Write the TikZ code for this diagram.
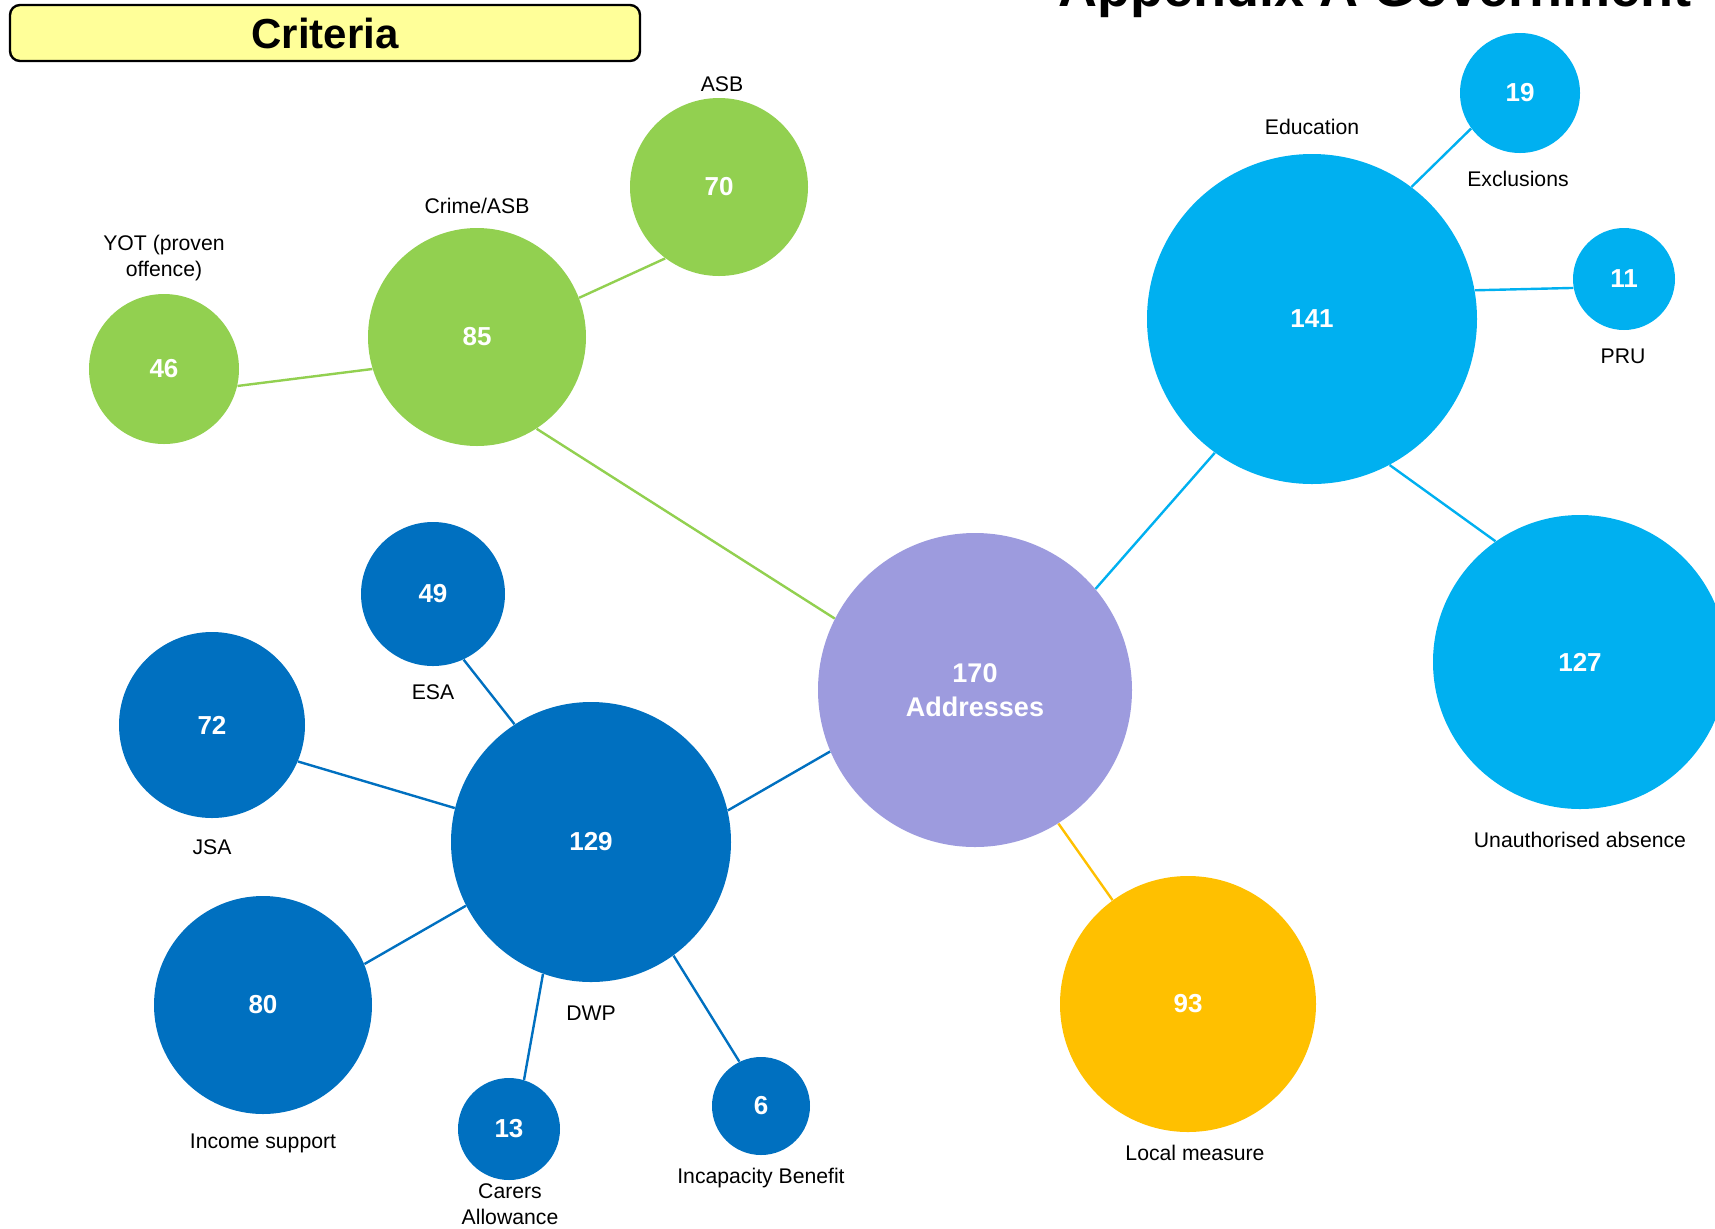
\documentclass[tikz,border=0pt]{standalone}
\usepackage{fontspec}
\setmainfont{Liberation Sans}
\definecolor{cgreen}{HTML}{92D050}
\definecolor{clblue}{HTML}{00B0F0}
\definecolor{cdblue}{HTML}{0070C0}
\definecolor{cpurple}{HTML}{9D9BDE}
\definecolor{corange}{HTML}{FFC000}
\definecolor{cyellow}{HTML}{FFFF99}
\tikzset{
  bub/.style={circle, inner sep=0pt, text=white, font=\bfseries\fontsize{13}{15}\selectfont, align=center},
  lab/.style={font=\fontsize{10.6}{13}\selectfont, align=center, inner sep=0pt},
  link/.style={line width=1.2pt}
}
\begin{document}
\begin{tikzpicture}[x=0.5pt,y=-0.5pt]
\useasboundingbox (0,0) rectangle (1715,1228);
\clip (0,0) rectangle (1715,1228);
% title (cut off at the top edge, as in the reference)
\node[anchor=base west, inner sep=0pt, font=\bfseries\fontsize{27}{30}\selectfont] (title) at (1058,6) {Appendix A Government};
% criteria box
\node[draw=black, line width=1.2pt, fill=cyellow, rounded corners=5pt, minimum width=315pt, minimum height=28pt, inner sep=0pt, font=\bfseries\fontsize{21}{24}\selectfont] (crit) at (325,33) {Criteria};
% bubbles
\node[bub, fill=cpurple, minimum size=157pt, font=\bfseries\fontsize{13.5}{17}\selectfont] (addr) at (975,690) {170\\Addresses};
\node[bub, fill=clblue, minimum size=165pt] (edu) at (1312,319) {141};
\node[bub, fill=clblue, minimum size=60pt] (exc) at (1520,93) {19};
\node[bub, fill=clblue, minimum size=51pt] (pru) at (1624,279) {11};
\node[bub, fill=clblue, minimum size=147pt] (ua) at (1580,662) {127};
\node[bub, fill=corange, minimum size=128pt] (loc) at (1188,1004) {93};
\node[bub, fill=cdblue, minimum size=140pt] (dwp) at (591,842) {129};
\node[bub, fill=cdblue, minimum size=72pt] (esa) at (433,594) {49};
\node[bub, fill=cdblue, minimum size=93pt] (jsa) at (212,725) {72};
\node[bub, fill=cdblue, minimum size=109pt] (inc) at (263,1005) {80};
\node[bub, fill=cdblue, minimum size=51pt] (car) at (509,1129) {13};
\node[bub, fill=cdblue, minimum size=49pt] (icb) at (761,1106) {6};
\node[bub, fill=cgreen, minimum size=109pt] (crime) at (477,337) {85};
\node[bub, fill=cgreen, minimum size=89pt] (asb) at (719,187) {70};
\node[bub, fill=cgreen, minimum size=75pt] (yot) at (164,369) {46};
% connectors
\draw[link, cgreen] (crime.303.7) -- (addr.153.8);
\draw[link, cgreen] (crime.21) -- (asb.233);
\draw[link, cgreen] (crime.197.5) -- (yot.347.7);
\draw[link, clblue] (edu.234.3) -- (addr.40.8);
\draw[link, clblue] (edu.53.6) -- (exc.216.9);
\draw[link, clblue] (edu.10.8) -- (pru.190);
\draw[link, clblue] (edu.298.6) -- (ua.125);
\draw[link, corange] (addr.302.4) -- (loc.126.2);
\draw[link, cdblue] (dwp.13.6) -- (addr.203.4);
\draw[link, cdblue] (dwp.123.8) -- (esa.295.8);
\draw[link, cdblue] (dwp.166.5) -- (jsa.337.3);
\draw[link, cdblue] (dwp.207.2) -- (inc.22.2);
\draw[link, cdblue] (dwp.250.7) -- (car.73.9);
\draw[link, cdblue] (dwp.306.2) -- (icb.116);
% labels
\node[lab] (lasb) at (722,84) {ASB};
\node[lab] (lcrime) at (477,206) {Crime/ASB};
\node[lab] (lyot) at (164,258) {YOT (proven\\offence)};
\node[lab] (ledu) at (1312,127) {Education};
\node[lab] (lexc) at (1518,179) {Exclusions};
\node[lab] (lpru) at (1623,356) {PRU};
\node[lab] (lua) at (1580,840) {Unauthorised absence};
\node[lab] (lloc) at (1195,1153) {Local measure};
\node[lab] (ldwp) at (591,1013) {DWP};
\node[lab] (lesa) at (433,692) {ESA};
\node[lab] (ljsa) at (212,847) {JSA};
\node[lab] (linc) at (263,1143) {Income support};
\node[lab] (lcar) at (510,1204) {Carers\\Allowance};
\node[lab] (licb) at (761,1178) {Incapacity Benefit};
\end{tikzpicture}
\end{document}
